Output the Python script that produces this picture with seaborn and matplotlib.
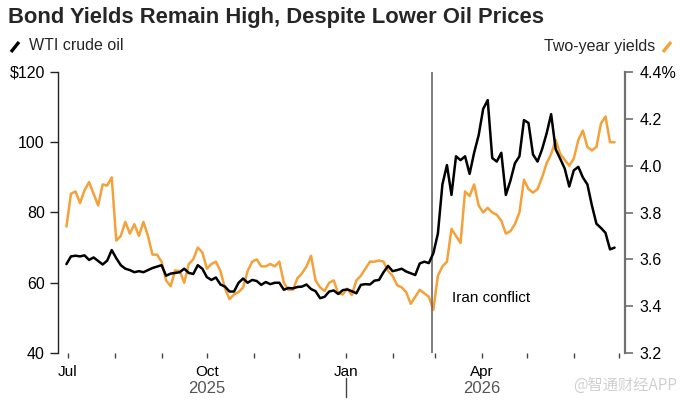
import matplotlib
matplotlib.use("Agg")
import matplotlib.pyplot as plt
import matplotlib.dates as mdates
from matplotlib.lines import Line2D
from matplotlib.ticker import FuncFormatter
import seaborn as sns
import pandas as pd

# ─────────────────────────────────────────
# DATA (one point every 3 days)
# ─────────────────────────────────────────
START_DATE = "2025-06-30"
STEP       = "3D"
IRAN_DATE  = "2026-02-27"

wti_oil = [
    65.3, 67.5, 67.7, 67.5, 67.8, 66.5, 67.2, 66.2, 65.2, 66.3,
    69.3, 67.0, 65.0, 64.0, 63.6, 63.0, 63.3, 63.0, 63.6, 64.2,
    64.6, 65.0, 62.0, 62.6, 62.8, 63.0, 64.0, 62.8, 62.5, 65.0,
    64.0, 61.6, 60.8, 61.5, 59.5, 58.9, 57.5, 57.5, 60.0, 61.2,
    60.0, 60.8, 60.5, 59.4, 60.2, 59.6, 60.0, 60.0, 58.0, 58.5,
    58.4, 58.8, 58.9, 59.5, 58.2, 57.6, 55.6, 56.0, 57.5, 57.8,
    56.8, 57.9, 58.1, 57.6, 57.0, 59.4, 59.6, 59.5, 60.6, 60.8,
    63.0, 64.8, 63.3, 63.6, 64.0, 63.2, 62.7, 62.2, 65.5, 66.0,
    65.6, 68.4, 74.0, 88.0, 93.5, 85.0, 96.0, 94.9, 96.0, 91.0,
    97.0, 102.0, 109.5, 112.0, 95.5, 94.5, 97.0, 85.0, 89.0, 94.0,
    96.0, 106.3, 105.5, 96.5, 94.5, 98.0, 102.5, 108.0, 98.0, 95.3,
    92.5, 87.4, 92.0, 93.0, 90.0, 88.0, 82.0, 76.8, 75.6, 74.2,
    69.5, 70.0,
]

two_year_yield = [
    3.74, 3.88, 3.89, 3.84, 3.895, 3.93, 3.88, 3.83, 3.92, 3.915,
    3.95, 3.68, 3.70, 3.76, 3.71, 3.75, 3.70, 3.76, 3.70, 3.62,
    3.62, 3.59, 3.51, 3.485, 3.553, 3.55, 3.50, 3.58, 3.60, 3.65,
    3.63, 3.56, 3.58, 3.59, 3.55, 3.476, 3.43, 3.45, 3.46, 3.48,
    3.55, 3.59, 3.60, 3.57, 3.57, 3.58, 3.57, 3.59, 3.50, 3.47,
    3.47, 3.52, 3.54, 3.57, 3.615, 3.51, 3.48, 3.465, 3.50, 3.51,
    3.455, 3.45, 3.475, 3.447, 3.51, 3.53, 3.56, 3.59, 3.59, 3.595,
    3.59, 3.55, 3.53, 3.49, 3.48, 3.46, 3.41, 3.44, 3.47, 3.455,
    3.44, 3.385, 3.53, 3.57, 3.59, 3.73, 3.70, 3.67, 3.89, 3.87,
    3.92, 3.83, 3.80, 3.82, 3.80, 3.79, 3.765, 3.71, 3.72, 3.75,
    3.80, 3.94, 3.90, 3.885, 3.90, 3.95, 4.01, 4.05, 4.11, 4.05,
    4.025, 4.00, 4.03, 4.11, 4.15, 4.08, 4.065, 4.08, 4.18, 4.21,
    4.10, 4.10,
]

left_ticks    = [40, 60, 80, 100, 120]
right_ticks   = [3.2, 3.4, 3.6, 3.8, 4.0, 4.2, 4.4]
quarter_ticks = ["2025-07-01", "2025-10-01", "2026-01-01", "2026-04-01"]
quarter_names = ["Jul", "Oct", "Jan", "Apr"]
year_ticks    = ["2025-10-01", "2026-04-01"]
year_names    = ["2025", "2026"]
year_split    = "2026-01-01"

TITLE  = "Bond Yields Remain High, Despite Lower Oil Prices"
ORANGE = "#F4A13A"

dates = pd.date_range(START_DATE, periods=len(wti_oil), freq=STEP)
df = pd.DataFrame({"date": dates, "wti": wti_oil, "yield2y": two_year_yield})

# ─────────────────────────────────────────
# FIGURE
# ─────────────────────────────────────────
sns.set_style("white")
plt.rcParams["font.family"] = ["Liberation Sans", "DejaVu Sans"]

W, H = 681, 405
fig = plt.figure(figsize=(W / 100, H / 100), dpi=100)
ax = fig.add_axes([58 / W, 1 - 353 / H, (625 - 58) / W, (353 - 72) / H])
ax2 = ax.twinx()

sns.lineplot(data=df, x="date", y="yield2y", ax=ax2, color=ORANGE, lw=1.8)
sns.lineplot(data=df, x="date", y="wti", ax=ax, color="black", lw=1.8)

# black line over the orange one
ax.set_zorder(ax2.get_zorder() + 1)
ax.patch.set_visible(False)

ax.set_ylim(40, 120)
ax2.set_ylim(3.2, 4.4)
ax.set_xlim(pd.Timestamp("2025-06-24 10:00"), pd.Timestamp("2026-07-04 22:00"))
ax.set_xlabel(""); ax.set_ylabel("")
ax2.set_xlabel(""); ax2.set_ylabel("")

ax.set_yticks(left_ticks)
ax.yaxis.set_major_formatter(FuncFormatter(lambda v, p: f"${v:.0f}" if v == 120 else f"{v:.0f}"))
ax2.set_yticks(right_ticks)
ax2.yaxis.set_major_formatter(FuncFormatter(lambda v, p: f"{v:.1f}%" if abs(v - 4.4) < 1e-6 else f"{v:.1f}"))

ax.set_xticks(pd.to_datetime(quarter_ticks))
ax.set_xticklabels(quarter_names)
ax.xaxis.set_minor_locator(mdates.MonthLocator())

for s in ["top", "right", "bottom"]:
    ax.spines[s].set_visible(False)
for s in ["top", "left", "bottom"]:
    ax2.spines[s].set_visible(False)
ax.spines["left"].set_color("#222222")
ax.spines["left"].set_linewidth(1.0)
ax2.spines["right"].set_color("#707070")
ax2.spines["right"].set_linewidth(1.6)

ax.tick_params(axis="y", which="major", length=5.5, width=1, color="#222222",
               pad=4, labelsize=11.5, labelcolor="black", left=True)
ax2.tick_params(axis="y", which="major", length=5.5, width=1.2, color="#707070",
                pad=5, labelsize=11.5, labelcolor="black", right=True)
ax.tick_params(axis="x", which="both", length=3.5, width=1, color="#444444", bottom=True)
ax.tick_params(axis="x", which="major", pad=5, labelsize=11, labelcolor="black")
ax.grid(False); ax2.grid(False)

# Iran conflict marker
iran = pd.Timestamp(IRAN_DATE)
ax.axvline(iran, color="#666666", lw=1.2, zorder=0)
ax.annotate("Iran conflict", xy=(iran, 55.7), xytext=(14.5, 0), textcoords="offset points",
            fontsize=11, va="center", ha="left", color="black")

# year labels + separator under the axis
trans = ax.get_xaxis_transform()
for d, name in zip(year_ticks, year_names):
    ax.text(pd.Timestamp(d), -0.125, name, transform=trans, ha="center", va="center",
            fontsize=12, color="#555555")
ax.plot([pd.Timestamp(year_split)] * 2, [-0.09, -0.157], transform=trans,
        color="#444444", lw=1, clip_on=False)

# title + legend
fig.text(8 / W, 1 - 18 / H, TITLE, fontsize=15.8, fontweight="bold", va="center", ha="left")
fig.text(29 / W, 1 - 46 / H, "WTI crude oil", fontsize=11.5, va="center", ha="left")
fig.text(655 / W, 1 - 46 / H, "Two-year yields", fontsize=11.5, va="center", ha="right")
fig.add_artist(Line2D([11 / W, 19 / W], [1 - 52 / H, 1 - 42 / H], color="black", lw=2.4,
                      transform=fig.transFigure, solid_capstyle="butt"))
fig.add_artist(Line2D([663 / W, 671 / W], [1 - 52 / H, 1 - 42 / H], color=ORANGE, lw=2.4,
                      transform=fig.transFigure, solid_capstyle="butt"))

fig.text(677 / W, 1 - 385 / H, "@智通财经APP", fontsize=11, color="#d0d0d0",
         ha="right", va="center", family=["Noto Sans CJK SC", "DejaVu Sans"])

fig.savefig("out.png", dpi=100)
